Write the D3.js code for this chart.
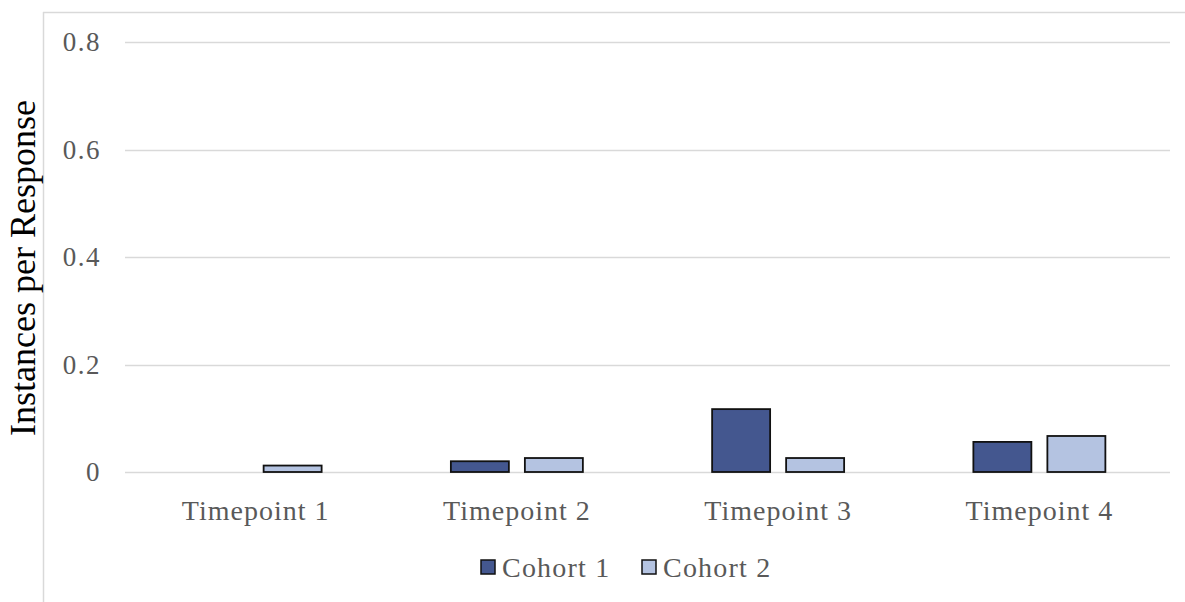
<!DOCTYPE html>
<html>
<head>
<meta charset="utf-8">
<script src="https://cdn.jsdelivr.net/npm/d3@7"></script>
<style>
  html, body { margin: 0; padding: 0; background: #fff; }
  svg { display: block; }
</style>
</head>
<body>
<svg id="chart" width="1185" height="602"></svg>
<script>
// Chart data
const categories = ["Timepoint 1", "Timepoint 2", "Timepoint 3", "Timepoint 4"];
const seriesNames = ["Cohort 1", "Cohort 2"];
const cohort1 = [0, 0.02, 0.117, 0.056];
const cohort2 = [0.012, 0.026, 0.026, 0.067];
const yTicks = [0, 0.2, 0.4, 0.6, 0.8];
const yTickLabels = ["0", "0.2", "0.4", "0.6", "0.8"];
const colors = ["#44578f", "#b4c3e1"];

const FONT = "'Liberation Serif', 'Times New Roman', serif";
const svg = d3.select("#chart");
const W = 1185, H = 602;
const margin = { left: 125, right: 15, top: 42, bottom: 130 };

const x = d3.scaleBand().domain(categories).range([margin.left, W - margin.right]);
const y = d3.scaleLinear().domain([0, 0.8]).range([H - margin.bottom, margin.top]);

const barW = 58, barGap = 16;

// Chart frame (top and left borders)
svg.append("line").attr("x1", 43).attr("x2", W).attr("y1", 12.5).attr("y2", 12.5)
  .attr("stroke", "#d9d9d9").attr("stroke-width", 1.5);
svg.append("line").attr("x1", 43.5).attr("x2", 43.5).attr("y1", 12).attr("y2", H)
  .attr("stroke", "#d9d9d9").attr("stroke-width", 1.5);

// Gridlines
svg.append("g").selectAll("line").data(yTicks).join("line")
  .attr("x1", margin.left).attr("x2", W - margin.right)
  .attr("y1", d => Math.round(y(d)) + 0.5).attr("y2", d => Math.round(y(d)) + 0.5)
  .attr("stroke", "#d9d9d9").attr("stroke-width", 1.5);

// Y tick labels
svg.append("g").selectAll("text").data(yTicks).join("text")
  .attr("x", 101).attr("y", d => y(d) + 9)
  .attr("text-anchor", "end")
  .attr("font-family", FONT)
  .attr("font-size", 27).attr("letter-spacing", 1.5).attr("fill", "#595959")
  .text((d, i) => yTickLabels[i]);

// Y axis title
svg.append("text")
  .attr("transform", `translate(35, 268) rotate(-90)`)
  .attr("text-anchor", "middle")
  .attr("font-family", FONT)
  .attr("font-size", 36).attr("fill", "#000")
  .text("Instances per Response");

// Bars
const rows = categories.map((c, i) => ({ cat: c, vals: [cohort1[i], cohort2[i]] }));
const groups = svg.append("g").selectAll("g").data(rows).join("g")
  .attr("transform", d => `translate(${x(d.cat) + x.bandwidth() / 2},0)`);
groups.selectAll("rect").data(d => d.vals.map((v, j) => ({ v, j })).filter(e => e.v > 0))
  .join("rect")
  .attr("x", e => e.j === 0 ? -barGap / 2 - barW : barGap / 2)
  .attr("width", barW)
  .attr("y", e => y(e.v))
  .attr("height", e => y(0) - y(e.v))
  .attr("fill", e => colors[e.j])
  .attr("stroke", "#111")
  .attr("stroke-width", 1.8);

// Category labels
svg.append("g").selectAll("text").data(categories).join("text")
  .attr("x", d => x(d) + x.bandwidth() / 2)
  .attr("y", 520)
  .attr("text-anchor", "middle")
  .attr("font-family", FONT)
  .attr("font-size", 28).attr("letter-spacing", 1).attr("fill", "#595959")
  .text(d => d);

// Legend
const legend = svg.append("g");
const legendX = [481, 642];
seriesNames.forEach((name, i) => {
  legend.append("rect").attr("x", legendX[i]).attr("y", 560).attr("width", 14).attr("height", 14)
    .attr("fill", colors[i]).attr("stroke", "#111").attr("stroke-width", 1.5);
  legend.append("text").attr("x", legendX[i] + 21).attr("y", 577)
    .attr("font-family", FONT)
    .attr("font-size", 28).attr("letter-spacing", 1.2).attr("fill", "#595959")
    .text(name);
});
</script>
</body>
</html>
